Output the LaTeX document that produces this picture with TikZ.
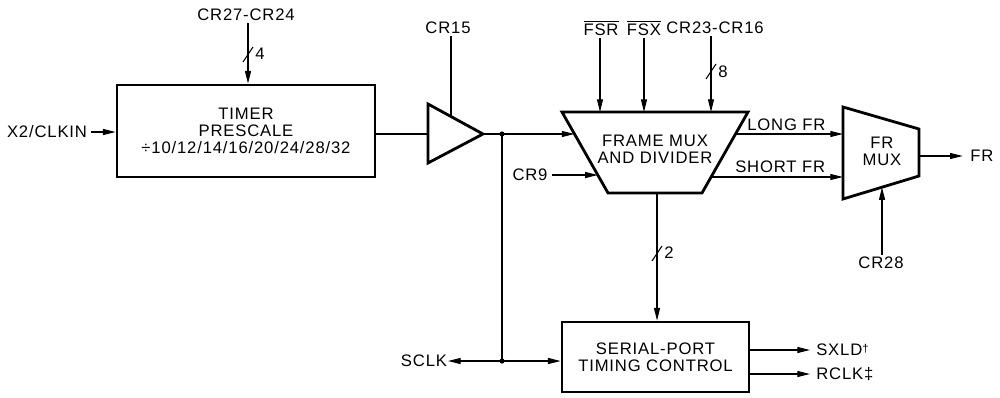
\documentclass[tikz,border=0pt]{standalone}
\usepackage{fontspec}
\setmainfont{Liberation Sans}[LetterSpace=5]
\usetikzlibrary{arrows.meta}
\begin{document}
\begin{tikzpicture}[x=0.75pt,y=-0.75pt,
  font=\fontsize{12.5}{12.6}\selectfont,
  wire/.style={line width=0.8pt},
  arr/.style={wire,-{Triangle[length=9.5pt,width=4.5pt]}},
  blk/.style={line width=2.1pt, line join=miter},
  lbl/.style={inner sep=1.5pt, align=center}]
\useasboundingbox (0,0) rectangle (1000,397);

% ---- blocks
\node (timer) [draw, blk, minimum width=193.5pt, minimum height=69pt, align=center, inner sep=0pt]
  at (246,131) {TIMER\\PRESCALE\\÷10/12/14/16/20/24/28/32};
\node (serial) [draw, blk, minimum width=140.25pt, minimum height=52.5pt, align=center, inner sep=0pt]
  at (655.5,357) {SERIAL-PORT\\TIMING CONTROL};

% buffer
\draw[blk] (428,104) -- (483,134) -- (428,163) -- cycle;
\coordinate (bufin) at (428,134);
\coordinate (bufout) at (483,134);
\coordinate (buftop) at (451,116.5);

% frame mux / divider
\draw[blk] (562,112) -- (748,112) -- (702,193) -- (608,193) -- cycle;
\node (fmux) [lbl] at (655,149) {FRAME MUX\\AND DIVIDER};
\coordinate (fmin) at (574.5,134);
\coordinate (fmcr9) at (597.8,175);
\coordinate (fmfsr) at (600,112);
\coordinate (fmfsx) at (644,112);
\coordinate (fmcr23) at (711,112);
\coordinate (fmbot) at (657,193);
\coordinate (fmlong) at (735.5,134);
\coordinate (fmshort) at (711,177);

% FR mux
\draw[blk] (843,107) -- (919,129) -- (919,176) -- (843,199) -- cycle;
\node (frmux) [lbl] at (882,151) {FR\\MUX};
\coordinate (frlong) at (843,134);
\coordinate (frshort) at (843,177);
\coordinate (frout) at (919,156);
\coordinate (frbot) at (882,187.2);

% junctions
\coordinate (j1) at (502,134);
\coordinate (j2) at (502,361);

% ---- labels
\node (clkin) [lbl] at (47,132) {X2/CLKIN};
\node (cr27) [lbl] at (246,15) {CR27-CR24};
\node (cr15) [lbl] at (448,28) {CR15};
\node (fsr) [lbl] at (601,28) {$\overline{\mbox{FSR}}$};
\node (fsx) [lbl] at (644,28) {$\overline{\mbox{FSX}}$};
\node (cr23) [lbl] at (715,28) {CR23-CR16};
\node (cr9) [lbl] at (530,175) {CR9};
\node (long) [lbl, anchor=west] at (745,125) {LONG FR};
\node (short) [lbl, anchor=west] at (733,167) {SHORT FR};
\node (fr) [lbl, anchor=west] at (968,156) {FR};
\node (cr28) [lbl] at (881,263) {CR28};
\node (sclk) [lbl] at (424,361) {SCLK};
\node (sxld) [lbl, anchor=west] at (814,350) {SXLD\raisebox{0.35ex}{\fontsize{8.5}{8.5}\selectfont †}};
\node (rclk) [lbl, anchor=west] at (814,374) {RCLK‡};
\node (n4) [lbl, anchor=west] at (253,54) {4};
\node (n8) [lbl, anchor=west] at (716,72) {8};
\node (n2) [lbl, anchor=west] at (662,253) {2};

% ---- connectors
\draw[arr] ([xshift=1pt]clkin.east) -- (timer.west |- clkin);
\draw[arr] (cr27.south -| 248,0) -- (timer.north -| 248,0);
\draw[wire] (243,62) -- (253,47);

\draw[wire] (timer.east |- bufin) -- (bufin);
\draw[wire] (cr15.south -| buftop) -- (buftop);
\draw[wire] (bufout) -- (j1);
\draw[arr] (j1) -- (fmin);
\draw[wire] (j1) -- (j2);
\fill (j1) circle (2.6);
\fill (j2) circle (2.6);
\draw[arr] (j2) -- ([xshift=-1pt]sclk.east);
\draw[arr] (j2) -- (serial.west |- j2);

\draw[arr] (fsr.south -| fmfsr) -- (fmfsr);
\draw[arr] (fsx.south -| fmfsx) -- (fmfsx);
\draw[arr] (cr23.south -| fmcr23) -- (fmcr23);
\draw[wire] (706,79) -- (716,64);
\draw[arr] ([xshift=2pt]cr9.east) -- (fmcr9);

\draw[arr] (fmbot) -- (serial.north -| fmbot);
\draw[wire] (652,261) -- (662,246);

\draw[arr] (fmlong) -- (frlong);
\draw[arr] (fmshort) -- (frshort);
\draw[arr] (frout) -- ([xshift=-4pt]fr.west);
\draw[arr] (cr28.north -| frbot) -- (frbot);

\draw[arr] (serial.east |- sxld) -- ([xshift=-3pt]sxld.west);
\draw[arr] (serial.east |- rclk) -- ([xshift=-3pt]rclk.west);
\end{tikzpicture}
\end{document}
